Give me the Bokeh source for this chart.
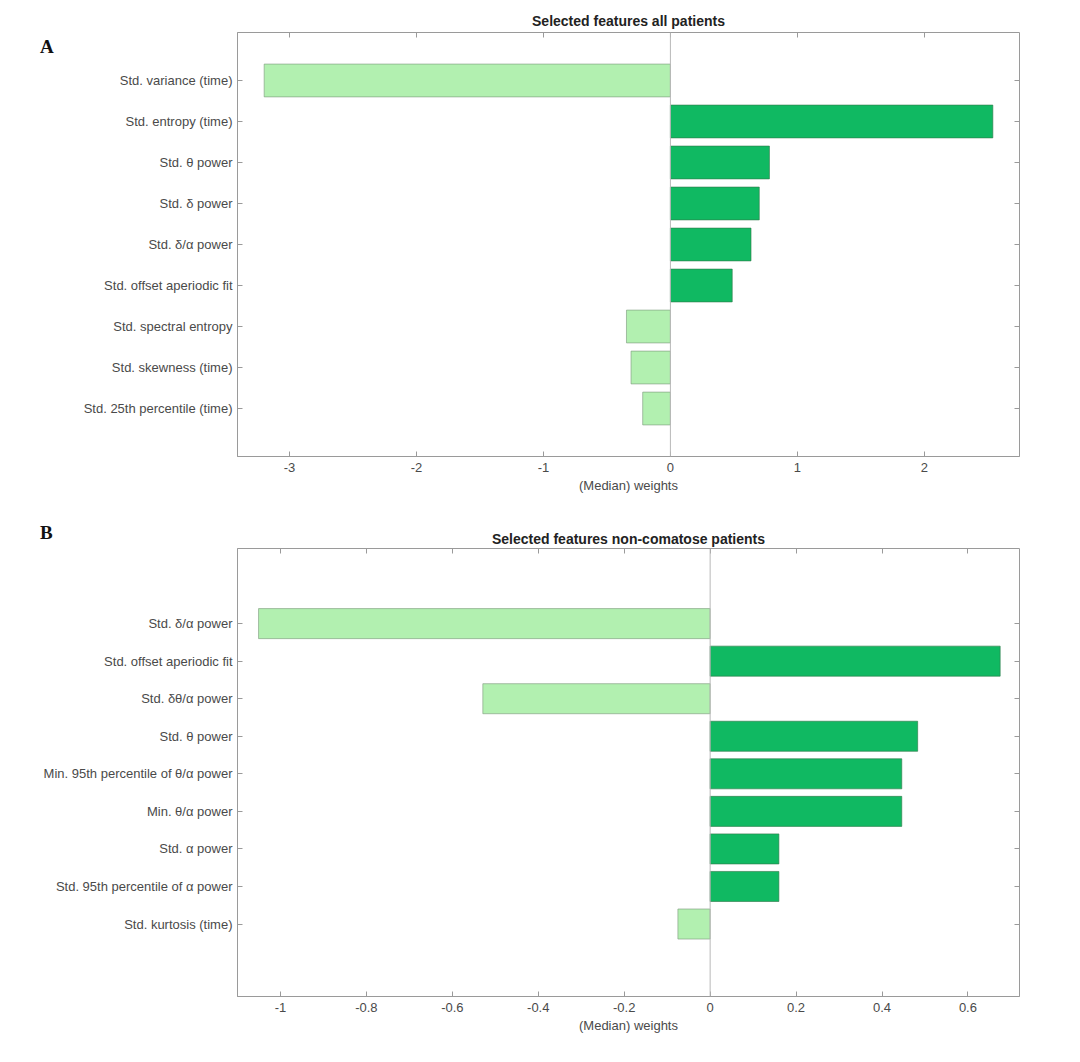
from bokeh.plotting import figure
from bokeh.models import (Range1d, FixedTicker, LinearAxis, Span, Div,
                          ColumnDataSource, NumeralTickFormatter)
from bokeh.layouts import column
from bokeh.embed import file_html
from bokeh.resources import INLINE

# ---------------- data ----------------
features_a = [
    "Std. variance (time)",
    "Std. entropy (time)",
    "Std. θ power",
    "Std. δ power",
    "Std. δ/α power",
    "Std. offset aperiodic fit",
    "Std. spectral entropy",
    "Std. skewness (time)",
    "Std. 25th percentile (time)",
]
weights_a = [-3.20, 2.54, 0.78, 0.70, 0.635, 0.487, -0.346, -0.31, -0.218]
xticks_a = [-3, -2, -1, 0, 1, 2]
xlim_a = (-3.41, 2.75)
ylim_a = (-0.17, 10.17)

features_b = [
    "Std. δ/α power",
    "Std. offset aperiodic fit",
    "Std. δθ/α power",
    "Std. θ power",
    "Min. 95th percentile of θ/α power",
    "Min. θ/α power",
    "Std. α power",
    "Std. 95th percentile of α power",
    "Std. kurtosis (time)",
]
weights_b = [-1.051, 0.675, -0.529, 0.483, 0.446, 0.446, 0.16, 0.16, -0.075]
xticks_b = [-1, -0.8, -0.6, -0.4, -0.2, 0, 0.2, 0.4, 0.6]
xlim_b = (-1.10, 0.72)
ylim_b = (-1.0, 10.93)

title_a = "Selected features all patients"
title_b = "Selected features non-comatose patients"
xlabel = "(Median) weights"
letter_a = "A"
letter_b = "B"

DARK = "#10b962"
LIGHT = "#b2f0b0"
FONT = "Liberation Sans"
TXT = "#4a4a4a"
FRAME = "#9a9a9a"
FRAME_W = 782
LEFT = 237


def panel(title, feats, weights, xticks, xlim, ylim, frame_h, top_b, bottom_b,
          title_standoff):
    n = len(feats)
    ypos = list(range(1, n + 1))
    src = ColumnDataSource(dict(
        y=ypos, w=weights,
        color=[DARK if w > 0 else LIGHT for w in weights],
        edge=["#2f7a4a" if w > 0 else "#7f9c7f" for w in weights],
    ))
    p = figure(frame_width=FRAME_W, frame_height=frame_h,
               x_range=Range1d(*xlim), y_range=Range1d(ylim[1], ylim[0]),
               output_backend="svg", toolbar_location=None,
               min_border_left=LEFT, min_border_right=55,
               min_border_top=top_b, min_border_bottom=bottom_b,
               background_fill_color="white", border_fill_color="white")
    p.grid.visible = False
    p.outline_line_color = FRAME
    p.outline_line_width = 1

    p.add_layout(Span(location=0, dimension="height", line_color="#b8b8b8",
                      line_width=1))
    p.hbar(y="y", right="w", left=0, height=0.8, fill_color="color",
           line_color="edge", line_width=0.8, line_alpha=0.8, source=src)

    # bottom x axis
    xa = p.xaxis[0]
    xa.ticker = FixedTicker(ticks=xticks)
    xa.formatter = NumeralTickFormatter(format="0.[0]")
    xa.major_tick_in = 5
    xa.major_tick_out = 0
    xa.minor_tick_line_color = None
    xa.axis_line_color = FRAME
    xa.major_tick_line_color = FRAME
    xa.major_label_standoff = 6
    xa.major_label_text_font = FONT
    xa.major_label_text_font_size = "13px"
    xa.major_label_text_color = TXT
    xa.axis_label = xlabel
    xa.axis_label_standoff = 3
    xa.axis_label_text_font = FONT
    xa.axis_label_text_font_size = "13px"
    xa.axis_label_text_font_style = "normal"
    xa.axis_label_text_color = TXT

    # left y axis with feature names
    ya = p.yaxis[0]
    ya.ticker = FixedTicker(ticks=ypos)
    ya.major_label_overrides = {i: f for i, f in zip(ypos, feats)}
    ya.major_tick_in = 5
    ya.major_tick_out = 0
    ya.minor_tick_line_color = None
    ya.axis_line_color = FRAME
    ya.major_tick_line_color = FRAME
    ya.major_label_standoff = 5
    ya.major_label_text_font = FONT
    ya.major_label_text_font_size = "13px"
    ya.major_label_text_color = TXT

    # box ticks on top and right (no labels drawn)
    top = LinearAxis(ticker=FixedTicker(ticks=xticks), major_tick_in=5,
                     major_tick_out=0, minor_tick_line_color=None,
                     axis_line_color=None, major_tick_line_color=FRAME,
                     major_label_text_font_size="1px",
                     major_label_text_color=None, major_label_standoff=0)
    p.add_layout(top, "above")
    right = LinearAxis(ticker=FixedTicker(ticks=ypos), major_tick_in=5,
                       major_tick_out=0, minor_tick_line_color=None,
                       axis_line_color=None, major_tick_line_color=FRAME,
                       major_label_text_font_size="1px",
                       major_label_text_color=None, major_label_standoff=0)
    p.add_layout(right, "right")

    p.title.text = title
    p.title.align = "center"
    p.title.text_font = FONT
    p.title.text_font_size = "14px"
    p.title.text_font_style = "bold"
    p.title.text_color = "#222222"
    p.title.standoff = title_standoff
    return p


def letter_div(text, left, top):
    return Div(text=text, width=30, height=26,
               styles={"position": "absolute", "left": f"{left}px",
                       "top": f"{top}px", "font-family": "Liberation Serif",
                       "font-weight": "bold", "font-size": "19px",
                       "color": "#111111", "line-height": "22px",
                       "z-index": "10"})


pA = panel(title_a, features_a, weights_a, xticks_a, xlim_a, ylim_a,
           frame_h=424, top_b=32, bottom_b=64, title_standoff=8)
pB = panel(title_b, features_b, weights_b, xticks_b, xlim_b, ylim_b,
           frame_h=448, top_b=28, bottom_b=50, title_standoff=4)

layout = column(pA, pB, letter_div(letter_a, 35, 31), letter_div(letter_b, 35, 517),
                spacing=0)
open("out.html", "w").write(file_html(layout, INLINE))
